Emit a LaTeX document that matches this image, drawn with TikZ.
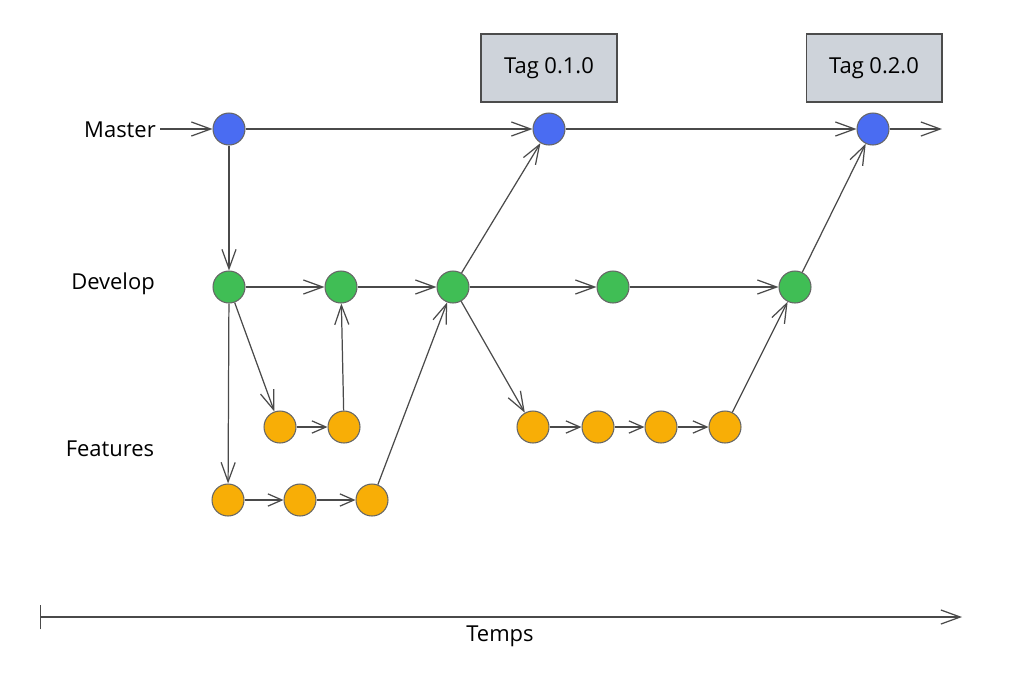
\documentclass[tikz,border=0pt]{standalone}
\usepackage{fontspec}
\setmainfont{Open Sans}
\usetikzlibrary{arrows.meta}
\definecolor{cblue}{HTML}{4A6CF2}
\definecolor{cgreen}{HTML}{40BE55}
\definecolor{corange}{HTML}{F8AE06}
\definecolor{tagfill}{HTML}{CED3DA}
\definecolor{edgecol}{HTML}{4A4A4A}
\begin{document}
\begin{tikzpicture}[x=0.02cm,y=-0.02cm,
  commit/.style={circle,draw=black!60,line width=0.6pt,minimum size=0.64cm,inner sep=0pt},
  mc/.style={commit,fill=cblue},
  dc/.style={commit,fill=cgreen},
  fc/.style={commit,fill=corange},
  tagbox/.style={draw=black!70,fill=tagfill,line width=0.6pt,minimum width=2.72cm,minimum height=1.36cm,font=\fontsize{12.5}{14}\selectfont},
  lbl/.style={font=\fontsize{12.5}{14}\selectfont},
  link/.style={draw=edgecol,line width=0.7pt,-{Straight Barb[length=11pt,width=8pt,line width=0.7pt]}},
  short/.style={draw=edgecol,line width=0.7pt,-{Straight Barb[length=8pt,width=7pt,line width=0.7pt]}}]
\useasboundingbox (0,0) rectangle (1016,674);
% labels
\node[lbl] (lmaster) at (120,130) {Master};
\node[lbl] (ldevelop) at (113,284) {Develop};
\node[lbl] (lfeat) at (110,449) {Features};
% tags
\node[tagbox] (t1) at (549,68) {Tag 0.1.0};
\node[tagbox] (t2) at (874,68) {Tag 0.2.0};
% master
\node[mc] (m1) at (229,129) {};
\node[mc] (m2) at (549,129) {};
\node[mc] (m3) at (873,129) {};
\coordinate (mend) at (942,129);
\coordinate (mstart) at (160,129);
% develop
\node[dc] (d1) at (229,287) {};
\node[dc] (d2) at (341,287) {};
\node[dc] (d3) at (453,287) {};
\node[dc] (d4) at (613,287) {};
\node[dc] (d5) at (795,287) {};
% features
\node[fc] (f1) at (280,427) {};
\node[fc] (f2) at (344,427) {};
\node[fc] (g1) at (228,500) {};
\node[fc] (g2) at (300,500) {};
\node[fc] (g3) at (372,500) {};
\node[fc] (h1) at (533,427) {};
\node[fc] (h2) at (598,427) {};
\node[fc] (h3) at (661,427) {};
\node[fc] (h4) at (725,427) {};
% edges
\draw[link] (mstart) -- (m1);
\draw[link] (m1) -- (m2);
\draw[link] (m2) -- (m3);
\draw[link] (m3) -- (mend);
\draw[link] (m1) -- (d1);
\draw[link] (d1) -- (d2);
\draw[link] (d2) -- (d3);
\draw[link] (d3) -- (d4);
\draw[link] (d4) -- (d5);
\draw[link] (d3) -- (m2);
\draw[link] (d5) -- (m3);
\draw[link] (d1) -- (f1);
\draw[short] (f1) -- (f2);
\draw[link] (f2) -- (d2);
\draw[link] (d1) -- (g1);
\draw[short] (g1) -- (g2);
\draw[short] (g2) -- (g3);
\draw[link] (g3) -- (d3);
\draw[link] (d3) -- (h1);
\draw[short] (h1) -- (h2);
\draw[short] (h2) -- (h3);
\draw[short] (h3) -- (h4);
\draw[link] (h4) -- (d5);
% time axis
\coordinate (tstart) at (40,617);
\coordinate (tend) at (962,617);
\draw[link,{Bar[width=14pt,line width=0.7pt]}-{Straight Barb[length=11pt,width=8pt,line width=0.7pt]}] (tstart) -- (tend);
\node[lbl] (temps) at (500,636) {Temps};
\end{tikzpicture}
\end{document}
